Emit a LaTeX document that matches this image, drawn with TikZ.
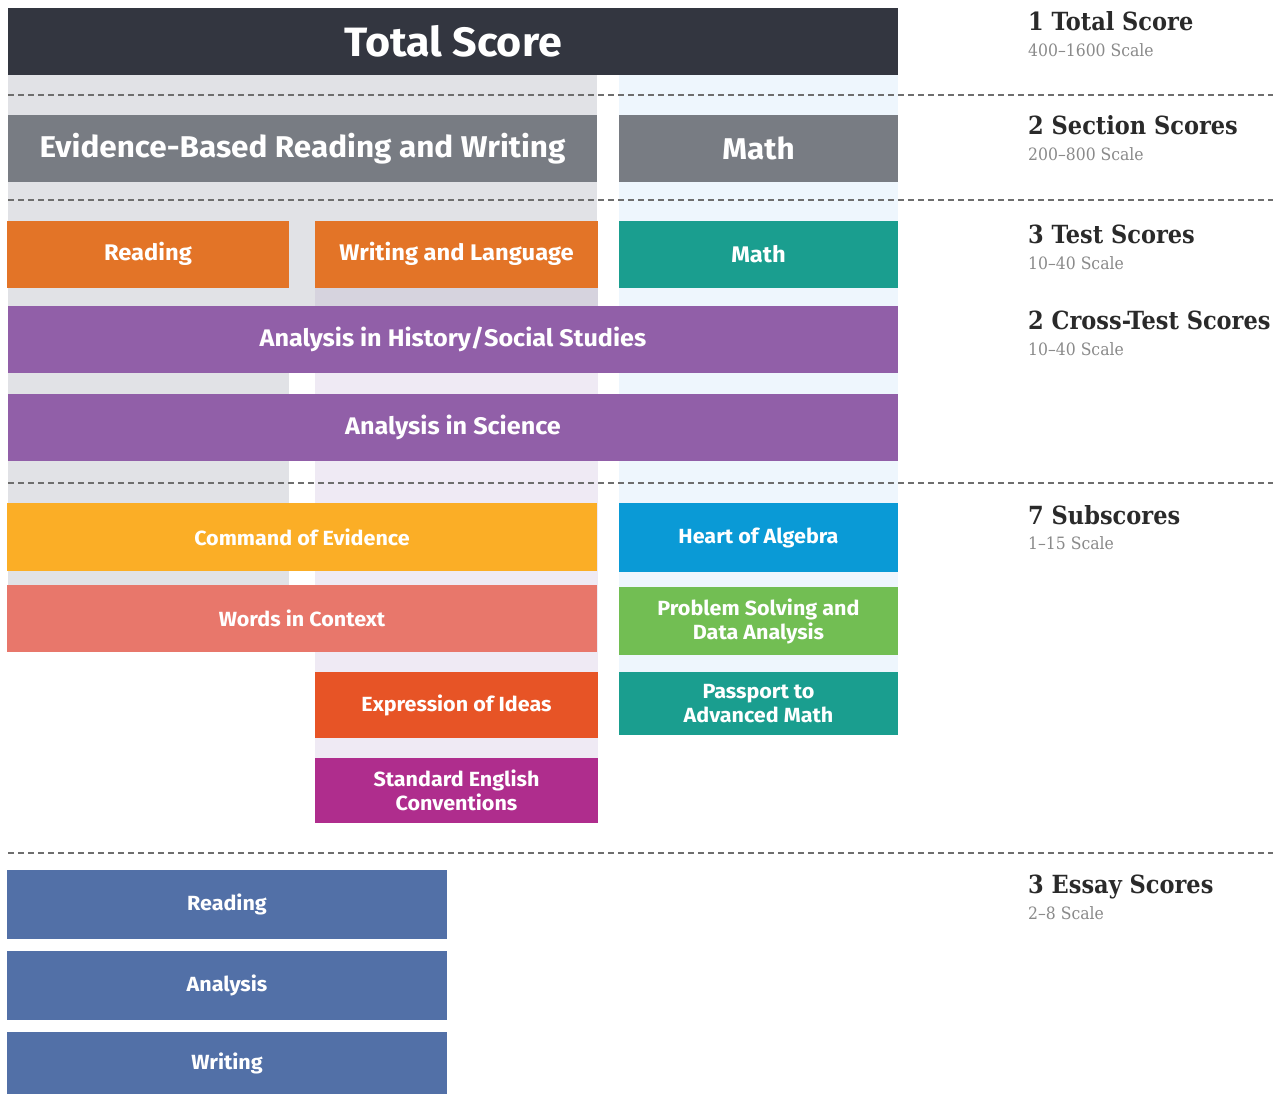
\documentclass[tikz,border=0pt]{standalone}
\usepackage{fontspec}
\setmainfont{Fira Sans}[FakeStretch=1.05]
\newfontfamily\slab{DejaVu Serif}[FakeStretch=0.9]
\newfontfamily\slabsub{DejaVu Serif}[FakeStretch=0.92]
\definecolor{cdark}{HTML}{333640}
\definecolor{csect}{HTML}{787C83}
\definecolor{bggray}{HTML}{E1E2E6}
\definecolor{bgmix}{HTML}{D6D3DE}
\definecolor{bglav}{HTML}{EFEAF4}
\definecolor{bgblue}{HTML}{EEF6FD}
\definecolor{corange}{HTML}{E37427}
\definecolor{cteal}{HTML}{1A9E8F}
\definecolor{cpurple}{HTML}{915FA8}
\definecolor{cyellow}{HTML}{FBAE26}
\definecolor{cblue}{HTML}{0A9AD6}
\definecolor{csalmon}{HTML}{E8776B}
\definecolor{cgreen}{HTML}{72BE53}
\definecolor{cred}{HTML}{E75426}
\definecolor{cmagenta}{HTML}{AF2D8D}
\definecolor{cessay}{HTML}{5270A7}
\definecolor{cdash}{HTML}{6E6E6E}
\definecolor{chead}{HTML}{2A2A2A}
\definecolor{csub}{HTML}{8A8A8A}
\tikzset{
  scorebox/.style={rectangle, inner sep=0pt, text=white, font=\bfseries, align=center},
  sepline/.style={draw=cdash, line width=1.4pt, dash pattern=on 6pt off 4pt},
  heading/.style={anchor=base west, inner sep=0pt, text=chead, font=\slab\bfseries\fontsize{25}{28}\selectfont},
  scalelabel/.style={anchor=base west, inner sep=0pt, text=csub, font=\slabsub\fontsize{17}{20}\selectfont},
  subfont/.style={font=\bfseries\fontsize{20.5}{24}\selectfont},
}
\begin{document}
\begin{tikzpicture}[x=1pt,y=-1pt]
\useasboundingbox[fill=white] (0,0) rectangle (1279,1095);
% column backgrounds
\fill[bggray] (8,75) rectangle (597,306);
\fill[bggray] (8,306) rectangle (289,585);
\fill[bglav] (315,287) rectangle (598,758);
\fill[bgmix] (315,287) rectangle (598,306);
\fill[bgblue] (619,75) rectangle (898,735);
% separators
\coordinate (d1a) at (8,95);  \coordinate (d1b) at (1273,95);
\coordinate (d2a) at (8,200); \coordinate (d2b) at (1273,200);
\coordinate (d3a) at (8,483); \coordinate (d3b) at (1273,483);
\coordinate (d4a) at (8,853); \coordinate (d4b) at (1273,853);
\draw[sepline] (d1a) -- (d1b);
\draw[sepline] (d2a) -- (d2b);
\draw[sepline] (d3a) -- (d3b);
\draw[sepline] (d4a) -- (d4b);
% boxes
\node[scorebox, fill=cdark, minimum width=890, minimum height=67, font=\bfseries\fontsize{41}{44}\selectfont] (total) at (453,41.5) {Total Score};
\node[scorebox, fill=csect, minimum width=589, minimum height=67, font=\bfseries\fontsize{30}{34}\selectfont] (ebrw) at (302.5,148.5) {Evidence-Based Reading and Writing};
\node[scorebox, fill=csect, minimum width=279, minimum height=67, font=\bfseries\fontsize{30}{34}\selectfont] (maths) at (758.5,148.5) {Math};
\node[scorebox, fill=corange, minimum width=282, minimum height=67, font=\bfseries\fontsize{22.6}{26}\selectfont] (readt) at (148,254) {Reading};
\node[scorebox, fill=corange, minimum width=283, minimum height=67, font=\bfseries\fontsize{22.6}{26}\selectfont] (writt) at (456.5,254) {Writing and Language};
\node[scorebox, fill=cteal, minimum width=279, minimum height=67, font=\bfseries\fontsize{22.6}{26}\selectfont] (matht) at (758.5,254) {Math};
\node[scorebox, fill=cpurple, minimum width=890, minimum height=67, font=\bfseries\fontsize{24}{28}\selectfont] (hist) at (453,339.5) {Analysis in History/Social Studies};
\node[scorebox, fill=cpurple, minimum width=890, minimum height=67, font=\bfseries\fontsize{24}{28}\selectfont] (sci) at (453,427.5) {Analysis in Science};
\node[scorebox, fill=cyellow, minimum width=590, minimum height=68, subfont] (cmd) at (302,537) {Command of Evidence};
\node[scorebox, fill=cblue, minimum width=279, minimum height=69, subfont] (alg) at (758.5,537.5) {Heart of Algebra};
\node[scorebox, fill=csalmon, minimum width=590, minimum height=67, subfont] (wic) at (302,618.5) {Words in Context};
\node[scorebox, fill=cgreen, minimum width=279, minimum height=68, subfont] (psda) at (758.5,621) {Problem Solving and\\Data Analysis};
\node[scorebox, fill=cred, minimum width=283, minimum height=66, subfont] (expr) at (456.5,705) {Expression of Ideas};
\node[scorebox, fill=cteal, minimum width=279, minimum height=63, subfont] (pass) at (758.5,703.5) {Passport to\\Advanced Math};
\node[scorebox, fill=cmagenta, minimum width=283, minimum height=65, subfont] (sec) at (456.5,790.5) {Standard English\\Conventions};
\node[scorebox, fill=cessay, minimum width=440, minimum height=69, subfont] (e1) at (227,904.5) {Reading};
\node[scorebox, fill=cessay, minimum width=440, minimum height=69, subfont] (e2) at (227,985.5) {Analysis};
\node[scorebox, fill=cessay, minimum width=440, minimum height=62, subfont] (e3) at (227,1063) {Writing};
% right-hand labels
\node[heading] (h1) at (1028,30) {1 Total Score};
\node[scalelabel] (s1) at (1028,56) {400–1600 Scale};
\node[heading] (h2) at (1028,134) {2 Section Scores};
\node[scalelabel] (s2) at (1028,160) {200–800 Scale};
\node[heading] (h3) at (1028,243) {3 Test Scores};
\node[scalelabel] (s3) at (1028,269) {10–40 Scale};
\node[heading] (h4) at (1028,329) {2 Cross-Test Scores};
\node[scalelabel] (s4) at (1028,355) {10–40 Scale};
\node[heading] (h5) at (1028,524) {7 Subscores};
\node[scalelabel] (s5) at (1028,549) {1–15 Scale};
\node[heading] (h6) at (1028,893) {3 Essay Scores};
\node[scalelabel] (s6) at (1028,919) {2–8 Scale};
\end{tikzpicture}
\end{document}
